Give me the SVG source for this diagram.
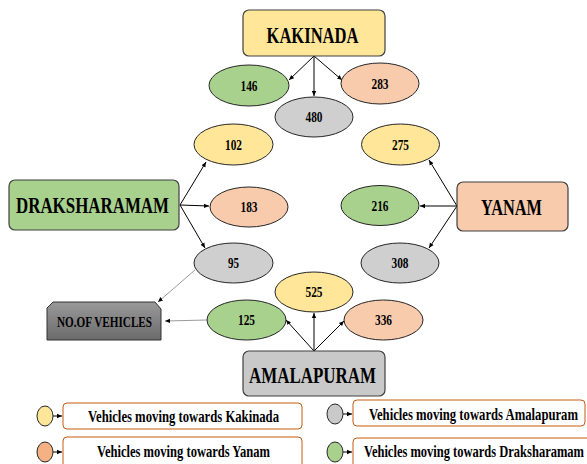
<svg xmlns="http://www.w3.org/2000/svg" width="587" height="464" viewBox="0 0 587 464">
<defs>
<marker id="ah" markerWidth="6" markerHeight="6" refX="5" refY="3" orient="auto" markerUnits="userSpaceOnUse">
<path d="M0,0.8 L5,3 L0,5.2 Z" fill="#000"/>
</marker>
<linearGradient id="gNo" x1="0" y1="0" x2="0" y2="1">
<stop offset="0" stop-color="#999999"/>
<stop offset="1" stop-color="#6b6b6b"/>
</linearGradient>
</defs>
<style>
text{font-family:"Liberation Serif","Times New Roman",serif;font-weight:bold;fill:#000;text-anchor:middle}
.city{font-size:24px}
.num{font-size:15px}
.leg{font-size:12.5px}
.box{stroke:#404040;stroke-width:1.2}
.ell{stroke:#262626;stroke-width:1}
.y{fill:#FFE699}
.s{fill:#F8CBAD}
.g{fill:#CFCFCF}
.gr{fill:#A9D18E}
.con{stroke:#000;stroke-width:1;fill:none;marker-end:url(#ah)}
.thin{stroke:#6e6e6e;stroke-width:0.7;fill:none;marker-end:url(#ah)}
.lbox{fill:#fff;stroke:#C55A11;stroke-width:1}
</style>

<g id="connectors">
<line class="con" x1="314" y1="56" x2="289" y2="80"/>
<line class="con" x1="314" y1="56" x2="314" y2="96"/>
<line class="con" x1="314" y1="56" x2="342" y2="80"/>
<line class="con" x1="180" y1="205" x2="206" y2="162"/>
<line class="con" x1="180" y1="205" x2="209" y2="206"/>
<line class="con" x1="180" y1="205" x2="205" y2="248"/>
<line class="con" x1="457" y1="206" x2="429" y2="160"/>
<line class="con" x1="457" y1="206" x2="420" y2="206"/>
<line class="con" x1="457" y1="206" x2="429" y2="248"/>
<line class="con" x1="314" y1="351" x2="286" y2="320"/>
<line class="con" x1="314" y1="351" x2="314" y2="313"/>
<line class="con" x1="314" y1="351" x2="344" y2="321"/>
<line class="thin" x1="195" y1="270" x2="158" y2="302"/>
<line class="thin" x1="207" y1="320" x2="165" y2="321"/>
<line class="con" x1="53" y1="416" x2="62" y2="416"/>
<line class="con" x1="53" y1="452" x2="62" y2="452"/>
<line class="con" x1="343" y1="414" x2="352" y2="414"/>
<line class="con" x1="343" y1="452" x2="352" y2="452"/>
</g>

<g id="kakinada">
<rect class="box y" x="243" y="10" width="142" height="46" rx="6"/>
<text class="city" x="312.5" y="43" textLength="92" lengthAdjust="spacingAndGlyphs">KAKINADA</text>
</g>
<g id="draksharamam">
<rect class="box gr" x="9" y="180" width="170" height="50" rx="6"/>
<text class="city" x="92.5" y="213" textLength="153" lengthAdjust="spacingAndGlyphs">DRAKSHARAMAM</text>
</g>
<g id="yanam">
<rect class="box s" x="457" y="182" width="111" height="49" rx="6"/>
<text class="city" x="511.5" y="215" textLength="61" lengthAdjust="spacingAndGlyphs">YANAM</text>
</g>
<g id="amalapuram">
<rect class="box" fill="#C9C9C9" x="243" y="351" width="142" height="45" rx="6"/>
<text class="city" x="312.5" y="383" textLength="127" lengthAdjust="spacingAndGlyphs">AMALAPURAM</text>
</g>
<g id="no-of-vehicles">
<path d="M53,302 L155,302 L161,309 L161,340 L47,340 L47,308 Z" fill="url(#gNo)" stroke="#333" stroke-width="1"/>
<text x="104.5" y="327" font-size="14" textLength="95" lengthAdjust="spacingAndGlyphs">NO.OF VEHICLES</text>
</g>

<g id="n146"><ellipse class="ell gr" cx="249" cy="85.5" rx="40" ry="20.5"/><text class="num" x="249" y="90.5" textLength="17" lengthAdjust="spacingAndGlyphs">146</text></g>
<g id="n480"><ellipse class="ell g" cx="314" cy="117" rx="39" ry="20"/><text class="num" x="314" y="122" textLength="17" lengthAdjust="spacingAndGlyphs">480</text></g>
<g id="n283"><ellipse class="ell s" cx="380" cy="83.5" rx="39" ry="20.5"/><text class="num" x="380" y="88.5" textLength="17" lengthAdjust="spacingAndGlyphs">283</text></g>
<g id="n102"><ellipse class="ell y" cx="233.5" cy="144.5" rx="39.5" ry="20.5"/><text class="num" x="233.5" y="149.5" textLength="17" lengthAdjust="spacingAndGlyphs">102</text></g>
<g id="n183"><ellipse class="ell s" cx="249" cy="207" rx="39" ry="20"/><text class="num" x="249" y="212" textLength="17" lengthAdjust="spacingAndGlyphs">183</text></g>
<g id="n95"><ellipse class="ell g" cx="233.5" cy="263" rx="39.5" ry="20"/><text class="num" x="233.5" y="268" textLength="11" lengthAdjust="spacingAndGlyphs">95</text></g>
<g id="n275"><ellipse class="ell y" cx="400.5" cy="144.5" rx="39" ry="20.5"/><text class="num" x="400.5" y="149.5" textLength="17" lengthAdjust="spacingAndGlyphs">275</text></g>
<g id="n216"><ellipse class="ell gr" cx="380" cy="205.5" rx="39" ry="20"/><text class="num" x="380" y="210.5" textLength="17" lengthAdjust="spacingAndGlyphs">216</text></g>
<g id="n308"><ellipse class="ell g" cx="400" cy="263" rx="39" ry="20"/><text class="num" x="400" y="268" textLength="17" lengthAdjust="spacingAndGlyphs">308</text></g>
<g id="n525"><ellipse class="ell y" cx="314" cy="292" rx="39" ry="20"/><text class="num" x="314" y="297" textLength="17" lengthAdjust="spacingAndGlyphs">525</text></g>
<g id="n125"><ellipse class="ell gr" cx="246.5" cy="320" rx="39.5" ry="20"/><text class="num" x="246.5" y="325" textLength="17" lengthAdjust="spacingAndGlyphs">125</text></g>
<g id="n336"><ellipse class="ell s" cx="383.5" cy="320" rx="39.5" ry="20"/><text class="num" x="383.5" y="325" textLength="17" lengthAdjust="spacingAndGlyphs">336</text></g>

<g id="legend-kakinada">
<ellipse class="ell" fill="#FFE699" cx="45" cy="416" rx="8" ry="10"/>
<rect class="lbox" x="63" y="403" width="239" height="26" rx="4"/>
<text class="leg" transform="translate(183.5,422) scale(1,1.28)" textLength="191" lengthAdjust="spacingAndGlyphs">Vehicles moving towards Kakinada</text>
</g>
<g id="legend-yanam">
<ellipse class="ell" fill="#F4B183" cx="45" cy="452" rx="8" ry="10"/>
<rect class="lbox" x="63" y="437" width="239" height="40" rx="4"/>
<text class="leg" transform="translate(183.5,457) scale(1,1.28)" textLength="173" lengthAdjust="spacingAndGlyphs">Vehicles moving towards Yanam</text>
</g>
<g id="legend-amalapuram">
<ellipse class="ell" fill="#C9C9C9" cx="335" cy="414" rx="8" ry="10"/>
<rect class="lbox" x="353" y="400" width="232" height="26" rx="4"/>
<text class="leg" transform="translate(473.5,420) scale(1,1.28)" textLength="209" lengthAdjust="spacingAndGlyphs">Vehicles moving towards Amalapuram</text>
</g>
<g id="legend-draksharamam">
<ellipse class="ell" fill="#A9D18E" cx="335" cy="452" rx="8" ry="10"/>
<rect class="lbox" x="353" y="438" width="240" height="40" rx="4"/>
<text class="leg" transform="translate(474,457) scale(1,1.28)" textLength="220" lengthAdjust="spacingAndGlyphs">Vehicles moving towards Draksharamam</text>
</g>
</svg>
